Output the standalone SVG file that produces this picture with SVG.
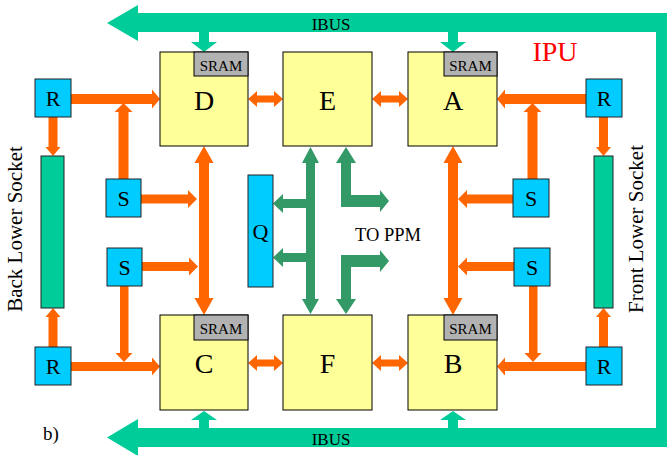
<svg xmlns="http://www.w3.org/2000/svg" width="667" height="455" viewBox="0 0 667 455">
<style>
text{font-family:"Liberation Serif","Times New Roman",serif;fill:#000}
.chip{fill:#FFFF99;stroke:#000;stroke-width:1}
.sram{fill:#B2B2B2;stroke:#000;stroke-width:1}
.box{fill:#00CCFF;stroke:#222;stroke-width:1}
.sock{fill:#00CC99;stroke:#222;stroke-width:1}
.bus{fill:#00CC99}
.or{fill:#FF6600}
.dg{fill:#339966}
.big{font-size:28px;text-anchor:middle}
.mid{font-size:22px;text-anchor:middle}
.sr{font-size:15px;text-anchor:middle}
.lab{font-size:18px}
</style>
<rect width="667" height="455" fill="#fff"/>

<g id="connectors">
  <!-- IBUS ring -->
  <path class="bus" d="M107,23 L138,5 L138,13 L667,13 L667,447 L138,447 L138,456 L107,437.5 L138,419 L138,428 L656,428 L656,32 L138,32 L138,41 Z"/>
  <!-- bus to chips -->
  <path class="bus" d="M199,32 L209,32 L209,42 L217,42 L204,52 L191,42 L199,42 Z"/>
  <path class="bus" d="M448,32 L458,32 L458,42 L466,42 L453,52 L440,42 L448,42 Z"/>
  <path class="bus" d="M199,428 L209,428 L209,420 L217,420 L204,411 L191,420 L199,420 Z"/>
  <path class="bus" d="M448,428 L458,428 L458,420 L466,420 L453,411 L440,420 L448,420 Z"/>

  <!-- orange left side -->
  <path class="or" d="M71,94 L152,94 L152,89.5 L160,99 L152,108.5 L152,104 L71,104 Z"/>
  <path class="or" d="M118.5,179 L118.5,112 L114.5,112 L123.5,103 L132.5,112 L128.5,112 L128.5,179 Z"/>
  <path class="or" d="M141,194.5 L188,194.5 L188,190 L197,199 L188,208 L188,203.5 L141,203.5 Z"/>
  <path class="or" d="M199,163 L194.5,163 L204,146 L213.5,163 L209,163 L209,298 L213.5,298 L204,315 L194.5,298 L199,298 Z"/>
  <path class="or" d="M48.5,117 L57.5,117 L57.5,147 L60.5,147 L53,156 L45.5,147 L48.5,147 Z"/>
  <path class="or" d="M48.5,347 L57.5,347 L57.5,317 L60.5,317 L53,308 L45.5,317 L48.5,317 Z"/>
  <path class="or" d="M71,362 L152,362 L152,357.5 L160,366.5 L152,375.5 L152,371 L71,371 Z"/>
  <path class="or" d="M120,286 L128.5,286 L128.5,353 L132.5,353 L124,362 L115.5,353 L120,353 Z"/>
  <path class="or" d="M142,262 L189,262 L189,257.5 L198,266.5 L189,275.5 L189,271 L142,271 Z"/>

  <!-- orange horizontal chip links -->
  <path class="or" d="M248,99 L257,91 L257,95.5 L274,95.5 L274,91 L283,99 L274,107 L274,102.5 L257,102.5 L257,107 Z"/>
  <path class="or" d="M372,99 L381,91 L381,95.5 L399,95.5 L399,91 L408,99 L399,107 L399,102.5 L381,102.5 L381,107 Z"/>
  <path class="or" d="M248,363 L257,355 L257,359.5 L274,359.5 L274,355 L283,363 L274,371 L274,366.5 L257,366.5 L257,371 Z"/>
  <path class="or" d="M372,363 L381,355 L381,359.5 L399,359.5 L399,355 L408,363 L399,371 L399,366.5 L381,366.5 L381,371 Z"/>

  <!-- orange right side -->
  <path class="or" d="M448,163 L443.5,163 L453,146 L462.5,163 L458,163 L458,298 L462.5,298 L453,315 L443.5,298 L448,298 Z"/>
  <path class="or" d="M586,94 L505,94 L505,89.5 L497,99 L505,108.5 L505,104 L586,104 Z"/>
  <path class="or" d="M527.5,179 L527.5,112 L523.5,112 L532.5,103 L541.5,112 L537.5,112 L537.5,179 Z"/>
  <path class="or" d="M513,194.5 L467,194.5 L467,190 L458,199 L467,208 L467,203.5 L513,203.5 Z"/>
  <path class="or" d="M599,117 L608,117 L608,147 L611,147 L603.5,156 L596,147 L599,147 Z"/>
  <path class="or" d="M586,362 L505,362 L505,357.5 L497,366.5 L505,375.5 L505,371 L586,371 Z"/>
  <path class="or" d="M514,262 L467,262 L467,257.5 L458,266.5 L467,275.5 L467,271 L514,271 Z"/>
  <path class="or" d="M529,286 L537.5,286 L537.5,353 L541.5,353 L533,362 L524.5,353 L529,353 Z"/>
  <path class="or" d="M599,347 L608,347 L608,317 L611,317 L603.5,308 L596,317 L599,317 Z"/>

  <!-- dark green center -->
  <path class="dg" d="M306,163 L302,163 L310.5,147 L319,163 L315,163 L315,299 L319,299 L310.5,314 L302,299 L306,299 L306,262 L283,262 L283,267 L273,257.5 L283,248 L283,253 L306,253 L306,208 L283,208 L283,213 L273,203.5 L283,194 L283,199 L306,199 Z"/>
  <path class="dg" d="M346,147 L356,163 L351,163 L351,195 L380,195 L380,190 L389,201 L380,212 L380,207 L341,207 L341,163 L336,163 Z"/>
  <path class="dg" d="M341,255 L380,255 L380,250 L389,261 L380,272 L380,267 L351,267 L351,299 L356,299 L346,314 L336,299 L341,299 Z"/>
</g>

<g id="D"><rect class="chip" x="160" y="52" width="88" height="94"/><rect class="sram" x="194" y="52" width="54" height="24"/><text class="sr" x="221" y="71">SRAM</text><text class="big" x="204" y="110">D</text></g>
<g id="E"><rect class="chip" x="283" y="52" width="89" height="94"/><text class="big" x="327.5" y="110">E</text></g>
<g id="A"><rect class="chip" x="408" y="52" width="89" height="94"/><rect class="sram" x="444" y="52" width="53" height="24"/><text class="sr" x="470.5" y="71">SRAM</text><text class="big" x="453" y="110">A</text></g>
<g id="C"><rect class="chip" x="160" y="315" width="88" height="95"/><rect class="sram" x="194" y="315" width="54" height="25"/><text class="sr" x="221" y="334">SRAM</text><text class="big" x="204" y="373">C</text></g>
<g id="F"><rect class="chip" x="283" y="315" width="89" height="95"/><text class="big" x="327.5" y="373">F</text></g>
<g id="B"><rect class="chip" x="408" y="315" width="89" height="95"/><rect class="sram" x="444" y="315" width="53" height="25"/><text class="sr" x="470.5" y="334">SRAM</text><text class="big" x="453" y="373">B</text></g>

<g id="R_TL"><rect class="box" x="35" y="79" width="36" height="38"/><text class="mid" x="53" y="106">R</text></g>
<g id="R_BL"><rect class="box" x="35" y="347" width="36" height="38"/><text class="mid" x="53" y="374">R</text></g>
<g id="R_TR"><rect class="box" x="586" y="79" width="36" height="38"/><text class="mid" x="604" y="106">R</text></g>
<g id="R_BR"><rect class="box" x="586" y="347" width="36" height="38"/><text class="mid" x="604" y="374">R</text></g>
<g id="S_TL"><rect class="box" x="106" y="179" width="35" height="38"/><text class="mid" x="123.5" y="206">S</text></g>
<g id="S_BL"><rect class="box" x="107" y="248" width="35" height="38"/><text class="mid" x="124.5" y="275">S</text></g>
<g id="S_TR"><rect class="box" x="513" y="179" width="36" height="38"/><text class="mid" x="531" y="206">S</text></g>
<g id="S_BR"><rect class="box" x="514" y="248" width="36" height="38"/><text class="mid" x="532" y="275">S</text></g>
<g id="Q"><rect class="box" x="248" y="175" width="25" height="112"/><text class="mid" x="260.5" y="239">Q</text></g>

<g id="BackSocket"><rect class="sock" x="41" y="156" width="23" height="152"/><text class="lab" style="font-size:21px" text-anchor="middle" transform="translate(22,229) rotate(-90)">Back Lower Socket</text></g>
<g id="FrontSocket"><rect class="sock" x="594" y="156" width="19" height="152"/><text class="lab" style="font-size:21px" text-anchor="middle" transform="translate(643,229) rotate(-90)">Front Lower Socket</text></g>

<g id="labels">
  <text x="331" y="30" style="font-size:17px" text-anchor="middle">IBUS</text>
  <text x="331" y="445" style="font-size:17px" text-anchor="middle">IBUS</text>
  <text x="555" y="61" style="font-size:28px;fill:#FF0000" text-anchor="middle">IPU</text>
  <text x="355" y="241" style="font-size:18.5px">TO PPM</text>
  <text x="43" y="440" style="font-size:19px">b)</text>
</g>
</svg>
